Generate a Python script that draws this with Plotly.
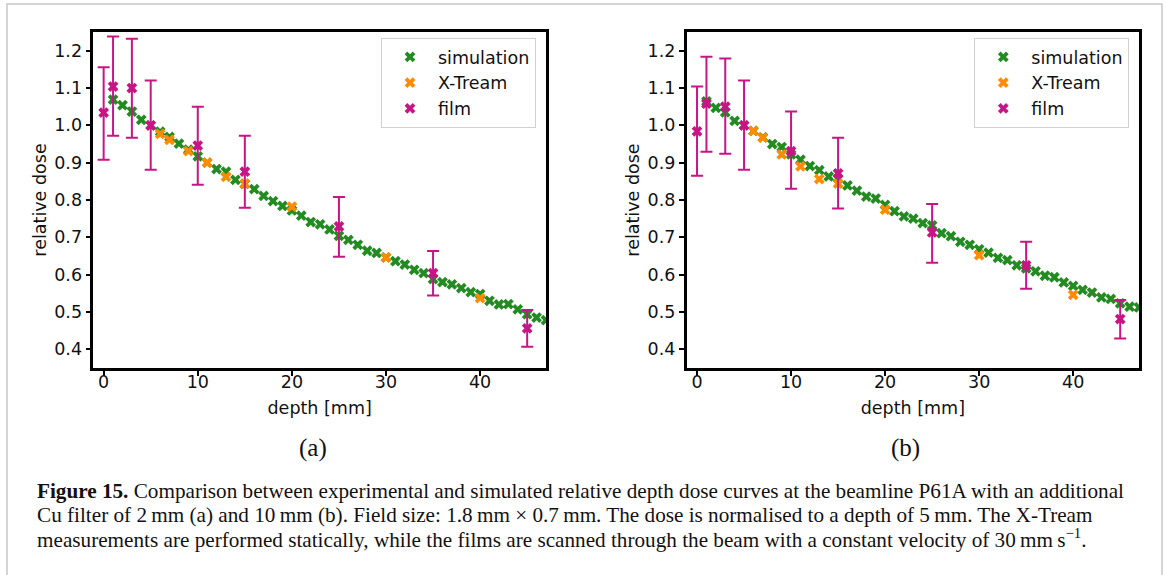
import plotly.graph_objects as go
import numpy as np

# ---------------- data ----------------
depth_sim = list(range(1, 48))
sim_a = [1.069, 1.054, 1.037, 1.015, 1.000, 0.983, 0.969, 0.951, 0.935, 0.917,
         0.900, 0.883, 0.876, 0.854, 0.843, 0.829, 0.811, 0.797, 0.784, 0.772,
         0.758, 0.741, 0.735, 0.721, 0.704, 0.693, 0.680, 0.664, 0.658, 0.646,
         0.636, 0.627, 0.613, 0.604, 0.588, 0.580, 0.574, 0.564, 0.553, 0.548,
         0.530, 0.520, 0.521, 0.507, 0.494, 0.485, 0.478]
sim_b = [1.064, 1.047, 1.035, 1.012, 1.000, 0.985, 0.968, 0.950, 0.942, 0.922,
         0.908, 0.891, 0.880, 0.863, 0.858, 0.839, 0.825, 0.809, 0.804, 0.787,
         0.770, 0.756, 0.750, 0.738, 0.732, 0.711, 0.703, 0.688, 0.680, 0.668,
         0.659, 0.645, 0.639, 0.625, 0.617, 0.609, 0.597, 0.593, 0.579, 0.570,
         0.559, 0.552, 0.539, 0.535, 0.523, 0.514, 0.512]

depth_xt = [6, 7, 9, 11, 13, 15, 20, 30, 40]
xt_a = [0.977, 0.961, 0.931, 0.900, 0.862, 0.844, 0.782, 0.646, 0.537]
xt_b = [0.985, 0.967, 0.922, 0.890, 0.856, 0.844, 0.774, 0.652, 0.546]

depth_film = [0, 1, 3, 5, 10, 15, 25, 35, 45]
film_a = [1.034, 1.104, 1.100, 1.000, 0.946, 0.876, 0.729, 0.604, 0.456]
film_a_hi = [1.156, 1.238, 1.232, 1.120, 1.050, 0.972, 0.808, 0.663, 0.505]
film_a_lo = [0.908, 0.972, 0.967, 0.881, 0.841, 0.779, 0.648, 0.544, 0.407]
film_b = [0.984, 1.058, 1.050, 1.000, 0.931, 0.871, 0.713, 0.625, 0.481]
film_b_hi = [1.104, 1.184, 1.179, 1.120, 1.037, 0.967, 0.789, 0.688, 0.532]
film_b_lo = [0.865, 0.929, 0.924, 0.881, 0.830, 0.777, 0.632, 0.562, 0.429]

x_ticks = [0, 10, 20, 30, 40]
y_ticks = [0.4, 0.5, 0.6, 0.7, 0.8, 0.9, 1.0, 1.1, 1.2]
panel_labels = ["(a)", "(b)"]
series_names = ["simulation", "X-Tream", "film"]

caption_lines = [
    "<b>Figure 15.</b> Comparison between experimental and simulated relative depth dose curves at the beamline P61A with an additional",
    "Cu filter of 2\u2009mm (a) and 10\u2009mm (b). Field size: 1.8\u2009mm \u00d7 0.7\u2009mm. The dose is normalised to a depth of 5\u2009mm. The X-Tream",
    "measurements are performed statically, while the films are scanned through the beam with a constant velocity of 30\u2009mm\u2009s<sup>\u22121</sup>.",
]

# ---------------- style ----------------
W, H = 1167, 575
C_SIM, C_XT, C_FILM = "#228B22", "#FF8C00", "#C71585"
FONT = "DejaVu Sans"
FS = 17.5
MS = 9.5

fig = go.Figure()

panels = [
    ("x", "y", "legend", sim_a, xt_a, film_a, film_a_hi, film_a_lo),
    ("x2", "y2", "legend2", sim_b, xt_b, film_b, film_b_hi, film_b_lo),
]
for xa, ya, leg, s, xt, f, fhi, flo in panels:
    f_arr = np.array(f)
    fig.add_trace(go.Scatter(x=depth_sim, y=s, mode="markers", name=series_names[0],
                             marker=dict(symbol="x", size=MS, color=C_SIM, line=dict(width=0)),
                             xaxis=xa, yaxis=ya, legend=leg))
    fig.add_trace(go.Scatter(x=depth_xt, y=xt, mode="markers", name=series_names[1],
                             marker=dict(symbol="x", size=MS, color=C_XT, line=dict(width=0)),
                             xaxis=xa, yaxis=ya, legend=leg))
    fig.add_trace(go.Scatter(x=depth_film, y=f, mode="markers", name=series_names[2],
                             marker=dict(symbol="x", size=MS, color=C_FILM, line=dict(width=0)),
                             error_y=dict(type="data", symmetric=False,
                                          array=(np.array(fhi) - f_arr).tolist(),
                                          arrayminus=(f_arr - np.array(flo)).tolist(),
                                          color=C_FILM, thickness=2, width=6),
                             xaxis=xa, yaxis=ya, legend=leg))

# axis domains in pixels
y_dom = [1 - 368.3 / H, 1 - 31.7 / H]
xa_dom = [93.3 / W, 546.0 / W]
xb_dom = [686.7 / W, 1139.0 / W]

axis_common = dict(showline=True, mirror=True, linecolor="black", linewidth=2.5,
                   ticks="outside", ticklen=5, tickwidth=1.5, tickcolor="black",
                   showgrid=False, zeroline=False,
                   tickfont=dict(family=FONT, size=FS, color="#111"),
                   automargin=False)

xaxis_common = dict(axis_common, range=[-1.1, 47.0], tickvals=x_ticks, ticklabelstandoff=-9,
                    title=dict(text="depth [mm]", font=dict(family=FONT, size=FS, color="#111"), standoff=11))
yaxis_common = dict(axis_common, range=[0.349, 1.251], tickvals=y_ticks, tickformat=".1f",
                    title=dict(text="relative dose", font=dict(family=FONT, size=FS, color="#111"), standoff=4))

legend_common = dict(bgcolor="white", bordercolor="#d0d0d0", borderwidth=1,
                     font=dict(family=FONT, size=FS, color="#111"),
                     xanchor="left", yanchor="top", itemwidth=46, tracegroupgap=0)

fig.update_layout(
    width=W, height=H,
    margin=dict(l=0, r=0, t=0, b=0),
    paper_bgcolor="white", plot_bgcolor="white",
    xaxis=dict(xaxis_common, domain=xa_dom, anchor="y"),
    yaxis=dict(yaxis_common, domain=y_dom, anchor="x"),
    xaxis2=dict(xaxis_common, domain=xb_dom, anchor="y2"),
    yaxis2=dict(yaxis_common, domain=y_dom, anchor="x2"),
    legend=dict(legend_common, x=381 / W, y=1 - 38 / H),
    legend2=dict(legend_common, x=974.3 / W, y=1 - 38 / H),
    showlegend=True,
)

# panel labels
for lab, cx in zip(panel_labels, [313, 905]):
    fig.add_annotation(text=lab, x=cx / W, y=1 - 448 / H, xref="paper", yref="paper",
                       showarrow=False, xanchor="center", yanchor="middle",
                       font=dict(family="Liberation Serif", size=25, color="#111"))

# caption
for line, cy in zip(caption_lines, [491, 514.5, 538]):
    fig.add_annotation(text=line, x=35 / W, y=1 - cy / H, xref="paper", yref="paper",
                       showarrow=False, xanchor="left", yanchor="middle", align="left",
                       font=dict(family="Liberation Serif", size=21.2, color="#111"))

# outer light-grey frame
fig.add_shape(type="rect", xref="paper", yref="paper",
              x0=7 / W, x1=1162 / W, y0=-0.05, y1=1 - 4 / H,
              line=dict(color="#c8c8c8", width=1.5), fillcolor="rgba(0,0,0,0)", layer="below")

fig.write_html("out.html", config={"displayModeBar": False},
               post_script="document.body.style.margin='0px';")
